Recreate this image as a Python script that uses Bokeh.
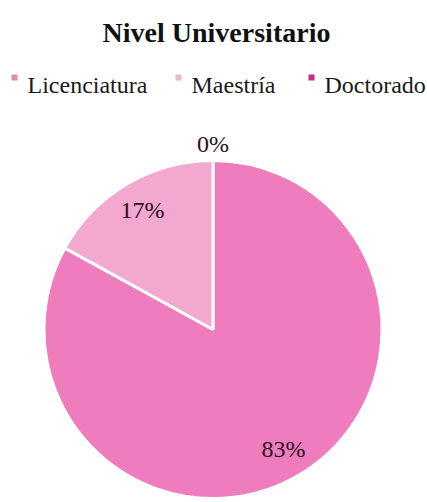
import math
from bokeh.plotting import figure
from bokeh.models import Range1d, ColumnDataSource
from bokeh.core.properties import value
from bokeh.embed import file_html
from bokeh.resources import INLINE

# ---- data ----
title_text = "Nivel Universitario"
categories = ["Licenciatura", "Maestría", "Doctorado"]
shares = [0.83, 0.17, 0.0]
labels = ["83%", "17%", "0%"]
slice_colors = ["#EF7DBE", "#F3A8D0", "#CC3F8C"]
legend_marker_colors = ["#D98DB1", "#E8B8CC", "#C4307F"]

# ---- layout (coordinates in page pixels, y up) ----
W, H = 427, 502
def Y(ref_y):
    return H - ref_y

cx, cy, R = 212.5, Y(329), 169
font = "Liberation Serif"

p = figure(width=W, height=H, output_backend="svg", toolbar_location=None,
           x_range=Range1d(0, W), y_range=Range1d(0, H),
           min_border=0, outline_line_color=None,
           background_fill_color="white", border_fill_color="white")
p.axis.visible = False
p.grid.visible = False

# wedges: clockwise from 12 o'clock
starts, ends, mids = [], [], []
cum = 0.0
for s in shares:
    a0 = math.pi / 2 - (cum + s) * 2 * math.pi
    a1 = math.pi / 2 - cum * 2 * math.pi
    starts.append(a0)
    ends.append(a1)
    mids.append((a0 + a1) / 2)
    cum += s

keep = [i for i, s in enumerate(shares) if s > 0]
src = ColumnDataSource(dict(
    start=[starts[i] for i in keep], end=[ends[i] for i in keep],
    color=[slice_colors[i] for i in keep]))
p.wedge(x=cx, y=cy, radius=R, start_angle="start", end_angle="end",
        fill_color="color", line_color="white", line_width=3, source=src)

# data labels
lx, ly = [], []
for i, s in enumerate(shares):
    r = R * 0.82 if s > 0 else R + 17
    lx.append(cx + r * math.cos(mids[i]))
    ly.append(cy + r * math.sin(mids[i]))
p.text(x=lx, y=ly, text=labels, text_font=value(font), text_font_size="24px",
       text_color="#2a1020", text_align="center", text_baseline="middle")

# title
p.text(x=[216], y=[Y(32)], text=[title_text], text_font=value(font),
       text_font_size="28px", text_font_style="bold", text_color="#111111",
       text_align="center", text_baseline="alphabetic")

# legend
leg_marker_x = [14, 178, 311]
p.scatter(x=leg_marker_x, y=[Y(77)] * 3, marker="square", size=6,
          fill_color=legend_marker_colors, line_color=None)
p.text(x=[x + 13 for x in leg_marker_x], y=[Y(84)] * 3, text=categories,
       text_font=value(font), text_font_size="24px", text_color="#1a1a1a",
       text_align="left", text_baseline="alphabetic")

open("out.html", "w").write(file_html(p, INLINE))
